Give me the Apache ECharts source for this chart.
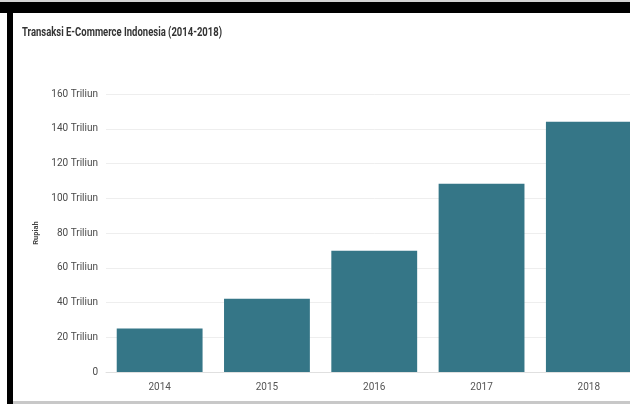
<!DOCTYPE html>
<html>
<head>
<meta charset="utf-8">
<script src="https://cdn.jsdelivr.net/npm/echarts@6/dist/echarts.min.js"></script>
<style>
html,body{margin:0;padding:0;width:630px;height:404px;overflow:hidden;background:#fff;}
#chart{position:absolute;left:0;top:0;width:660px;height:404px;}
</style>
</head>
<body>
<div id="chart"></div>
<script>
const categories = ['2014', '2015', '2016', '2017', '2018'];
const values = [25.1, 42.2, 69.8, 108.4, 144.1];
const yTickLabels = ['0', '20 Triliun', '40 Triliun', '60 Triliun', '80 Triliun', '100 Triliun', '120 Triliun', '140 Triliun', '160 Triliun'];
const titleText = 'Transaksi E-Commerce Indonesia (2014-2018)';
const yAxisName = 'Rupiah';

// fit title to its width in the reference (condensed look)
const titleFont = 'bold 13px Roboto, sans-serif';
const ctx = document.createElement('canvas').getContext('2d');
ctx.font = titleFont;
const titleScale = 200 / ctx.measureText(titleText).width;

const chart = echarts.init(document.getElementById('chart'), null, {renderer: 'canvas'});
chart.setOption({
  animation: false,
  backgroundColor: '#fff',
  grid: {left: 106, right: 17.5, top: 94, bottom: 32, containLabel: false},
  xAxis: {
    type: 'category',
    data: categories,
    axisLine: {show: true, lineStyle: {color: '#e0e0e0'}},
    axisTick: {show: false},
    axisLabel: {color: '#555', fontSize: 10, margin: 10, fontFamily: 'Roboto, sans-serif'}
  },
  yAxis: {
    type: 'value',
    min: 0,
    max: 160,
    interval: 20,
    name: yAxisName,
    nameLocation: 'middle',
    nameRotate: 90,
    nameGap: 55,
    nameTextStyle: {fontSize: 7.5, fontWeight: 'bold', color: '#444', fontFamily: 'Roboto, sans-serif'},
    axisLine: {show: false},
    axisTick: {show: false},
    splitLine: {lineStyle: {color: '#eeeeee', width: 1}},
    axisLabel: {
      color: '#4a4a4a',
      fontSize: 10,
      margin: 8,
      fontFamily: 'Roboto, sans-serif',
      formatter: function (v) { return yTickLabels[Math.round(v / 20)]; }
    }
  },
  series: [{
    type: 'bar',
    data: values,
    barCategoryGap: '20%',
    itemStyle: {color: '#357687'}
  }],
  graphic: [
    {type: 'text', x: 22, y: 26, scaleX: titleScale, scaleY: 1, z: 50,
     style: {text: titleText, fontFamily: 'Roboto, sans-serif', fontSize: 13, fontWeight: 'bold', fill: '#333'}},
    {type: 'rect', shape: {x: 0, y: 2, width: 660, height: 11}, style: {fill: '#000'}, z: 100},
    {type: 'rect', shape: {x: 7, y: 2, width: 6, height: 402}, style: {fill: '#000'}, z: 100},
    {type: 'rect', shape: {x: 0, y: 0, width: 660, height: 2}, style: {fill: '#d4d4d4'}, z: 100},
    {type: 'rect', shape: {x: 13, y: 401, width: 660, height: 3}, style: {fill: '#c8c8c8'}, z: 100}
  ]
});
</script>
</body>
</html>
